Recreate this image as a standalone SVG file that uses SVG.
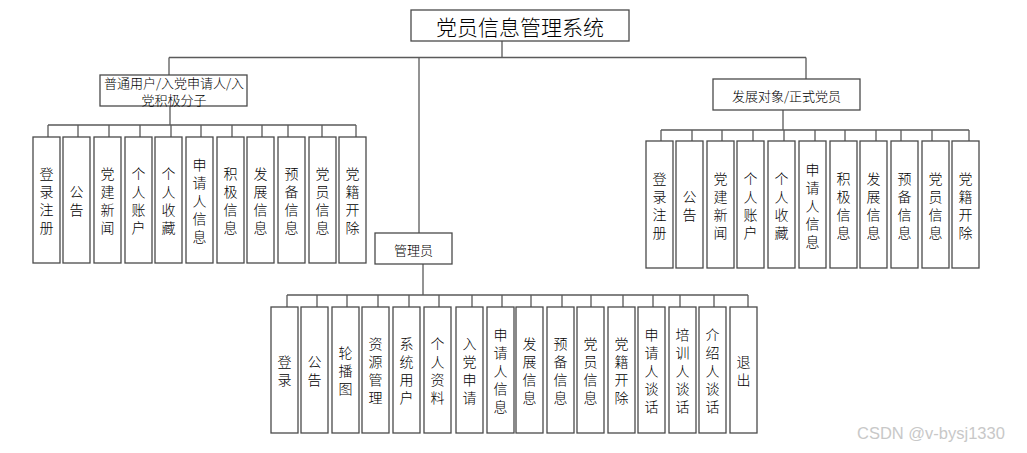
<svg xmlns="http://www.w3.org/2000/svg" width="1027" height="453" viewBox="0 0 1027 453">
<style>
.box{fill:#fff;stroke:#4a4a4a;stroke-width:1.3}
.ln{stroke:#5a5a5a;stroke-width:1.3;fill:none}
.t{font-family:"Noto Sans CJK SC","Liberation Sans",sans-serif;font-weight:300;font-size:13px;fill:#000;text-anchor:middle;dominant-baseline:central}
.v{font-family:"Noto Sans CJK SC","Liberation Sans",sans-serif;font-weight:300;font-size:14px;fill:#000;text-anchor:middle;dominant-baseline:central}
.title{font-size:21px}
.wm{font-family:"Liberation Sans",Arial,sans-serif;font-size:16.5px;fill:#c8c8c8}
</style>
<rect width="1027" height="453" fill="#fff"/>
<g id="connectors">
<path class="ln" d="M502 41V57.5M169 57.5H806M169 57.5V75M419 57.5V233M806 57.5V79"/>
<path class="ln" d="M170 106V125M48 125H356M48 125V137M78 125V137M109 125V137M140 125V137M171 125V137M201 125V137M232 125V137M262 125V137M288 125V137M322 125V137M356 125V137"/>
<path class="ln" d="M783 110V130M661 130H969M661 130V141M692 130V141M722 130V141M753 130V141M784 130V141M815 130V141M845 130V141M876 130V141M901 130V141M932 130V141M969 130V141"/>
<path class="ln" d="M423 264V295M287 295H748M287 295V307M317 295V307M347 295V307M378 295V307M409 295V307M439 295V307M472 295V307M502 295V307M531 295V307M562 295V307M591 295V307M623 295V307M653 295V307M680 295V307M714 295V307M748 295V307"/>
</g>
<g id="root"><rect class="box" x="411" y="10" width="218" height="31"/><text class="t title" x="520" y="25.5">党员信息管理系统</text></g>
<g id="user"><rect class="box" x="100" y="75" width="147" height="31"/><text class="t" x="174" y="82.5">普通用户/入党申请人/入</text><text class="t" x="174" y="99.5">党积极分子</text></g>
<g id="member"><rect class="box" x="713" y="79" width="147" height="31"/><text class="t" x="786.5" y="95">发展对象/正式党员</text></g>
<g id="admin"><rect class="box" x="375" y="233" width="77" height="31"/><text class="t" x="413.5" y="249">管理员</text></g>

<g id="u1"><rect class="box" x="33" y="137" width="27" height="126"/><text class="v"><tspan x="46.5" y="173">登</tspan><tspan x="46.5" y="191">录</tspan><tspan x="46.5" y="209">注</tspan><tspan x="46.5" y="227">册</tspan></text></g>
<g id="u2"><rect class="box" x="63" y="137" width="27" height="126"/><text class="v"><tspan x="76.5" y="191">公</tspan><tspan x="76.5" y="209">告</tspan></text></g>
<g id="u3"><rect class="box" x="94" y="137" width="27" height="126"/><text class="v"><tspan x="107.5" y="173">党</tspan><tspan x="107.5" y="191">建</tspan><tspan x="107.5" y="209">新</tspan><tspan x="107.5" y="227">闻</tspan></text></g>
<g id="u4"><rect class="box" x="125" y="137" width="27" height="126"/><text class="v"><tspan x="138.5" y="173">个</tspan><tspan x="138.5" y="191">人</tspan><tspan x="138.5" y="209">账</tspan><tspan x="138.5" y="227">户</tspan></text></g>
<g id="u5"><rect class="box" x="155" y="137" width="27" height="126"/><text class="v"><tspan x="168.5" y="173">个</tspan><tspan x="168.5" y="191">人</tspan><tspan x="168.5" y="209">收</tspan><tspan x="168.5" y="227">藏</tspan></text></g>
<g id="u6"><rect class="box" x="186" y="137" width="27" height="126"/><text class="v"><tspan x="199.5" y="164">申</tspan><tspan x="199.5" y="182">请</tspan><tspan x="199.5" y="200">人</tspan><tspan x="199.5" y="218">信</tspan><tspan x="199.5" y="236">息</tspan></text></g>
<g id="u7"><rect class="box" x="217" y="137" width="27" height="126"/><text class="v"><tspan x="230.5" y="173">积</tspan><tspan x="230.5" y="191">极</tspan><tspan x="230.5" y="209">信</tspan><tspan x="230.5" y="227">息</tspan></text></g>
<g id="u8"><rect class="box" x="247" y="137" width="27" height="126"/><text class="v"><tspan x="260.5" y="173">发</tspan><tspan x="260.5" y="191">展</tspan><tspan x="260.5" y="209">信</tspan><tspan x="260.5" y="227">息</tspan></text></g>
<g id="u9"><rect class="box" x="278" y="137" width="27" height="126"/><text class="v"><tspan x="291.5" y="173">预</tspan><tspan x="291.5" y="191">备</tspan><tspan x="291.5" y="209">信</tspan><tspan x="291.5" y="227">息</tspan></text></g>
<g id="u10"><rect class="box" x="309" y="137" width="27" height="126"/><text class="v"><tspan x="322.5" y="173">党</tspan><tspan x="322.5" y="191">员</tspan><tspan x="322.5" y="209">信</tspan><tspan x="322.5" y="227">息</tspan></text></g>
<g id="u11"><rect class="box" x="339" y="137" width="27" height="126"/><text class="v"><tspan x="352.5" y="173">党</tspan><tspan x="352.5" y="191">籍</tspan><tspan x="352.5" y="209">开</tspan><tspan x="352.5" y="227">除</tspan></text></g>

<g id="m1"><rect class="box" x="646" y="141" width="27" height="127"/><text class="v"><tspan x="659.5" y="177.5">登</tspan><tspan x="659.5" y="195.5">录</tspan><tspan x="659.5" y="213.5">注</tspan><tspan x="659.5" y="231.5">册</tspan></text></g>
<g id="m2"><rect class="box" x="676" y="141" width="27" height="127"/><text class="v"><tspan x="689.5" y="195.5">公</tspan><tspan x="689.5" y="213.5">告</tspan></text></g>
<g id="m3"><rect class="box" x="707" y="141" width="27" height="127"/><text class="v"><tspan x="720.5" y="177.5">党</tspan><tspan x="720.5" y="195.5">建</tspan><tspan x="720.5" y="213.5">新</tspan><tspan x="720.5" y="231.5">闻</tspan></text></g>
<g id="m4"><rect class="box" x="737" y="141" width="27" height="127"/><text class="v"><tspan x="750.5" y="177.5">个</tspan><tspan x="750.5" y="195.5">人</tspan><tspan x="750.5" y="213.5">账</tspan><tspan x="750.5" y="231.5">户</tspan></text></g>
<g id="m5"><rect class="box" x="768" y="141" width="27" height="127"/><text class="v"><tspan x="781.5" y="177.5">个</tspan><tspan x="781.5" y="195.5">人</tspan><tspan x="781.5" y="213.5">收</tspan><tspan x="781.5" y="231.5">藏</tspan></text></g>
<g id="m6"><rect class="box" x="799" y="141" width="27" height="127"/><text class="v"><tspan x="812.5" y="168.5">申</tspan><tspan x="812.5" y="186.5">请</tspan><tspan x="812.5" y="204.5">人</tspan><tspan x="812.5" y="222.5">信</tspan><tspan x="812.5" y="240.5">息</tspan></text></g>
<g id="m7"><rect class="box" x="830" y="141" width="27" height="127"/><text class="v"><tspan x="843.5" y="177.5">积</tspan><tspan x="843.5" y="195.5">极</tspan><tspan x="843.5" y="213.5">信</tspan><tspan x="843.5" y="231.5">息</tspan></text></g>
<g id="m8"><rect class="box" x="860" y="141" width="27" height="127"/><text class="v"><tspan x="873.5" y="177.5">发</tspan><tspan x="873.5" y="195.5">展</tspan><tspan x="873.5" y="213.5">信</tspan><tspan x="873.5" y="231.5">息</tspan></text></g>
<g id="m9"><rect class="box" x="891" y="141" width="27" height="127"/><text class="v"><tspan x="904.5" y="177.5">预</tspan><tspan x="904.5" y="195.5">备</tspan><tspan x="904.5" y="213.5">信</tspan><tspan x="904.5" y="231.5">息</tspan></text></g>
<g id="m10"><rect class="box" x="922" y="141" width="27" height="127"/><text class="v"><tspan x="935.5" y="177.5">党</tspan><tspan x="935.5" y="195.5">员</tspan><tspan x="935.5" y="213.5">信</tspan><tspan x="935.5" y="231.5">息</tspan></text></g>
<g id="m11"><rect class="box" x="952" y="141" width="27" height="127"/><text class="v"><tspan x="965.5" y="177.5">党</tspan><tspan x="965.5" y="195.5">籍</tspan><tspan x="965.5" y="213.5">开</tspan><tspan x="965.5" y="231.5">除</tspan></text></g>

<g id="a1"><rect class="box" x="271" y="307" width="27" height="126"/><text class="v"><tspan x="284.5" y="361">登</tspan><tspan x="284.5" y="379">录</tspan></text></g>
<g id="a2"><rect class="box" x="301" y="307" width="27" height="126"/><text class="v"><tspan x="314.5" y="361">公</tspan><tspan x="314.5" y="379">告</tspan></text></g>
<g id="a3"><rect class="box" x="332" y="307" width="27" height="126"/><text class="v"><tspan x="345.5" y="352">轮</tspan><tspan x="345.5" y="370">播</tspan><tspan x="345.5" y="388">图</tspan></text></g>
<g id="a4"><rect class="box" x="362" y="307" width="27" height="126"/><text class="v"><tspan x="375.5" y="343">资</tspan><tspan x="375.5" y="361">源</tspan><tspan x="375.5" y="379">管</tspan><tspan x="375.5" y="397">理</tspan></text></g>
<g id="a5"><rect class="box" x="393" y="307" width="27" height="126"/><text class="v"><tspan x="406.5" y="343">系</tspan><tspan x="406.5" y="361">统</tspan><tspan x="406.5" y="379">用</tspan><tspan x="406.5" y="397">户</tspan></text></g>
<g id="a6"><rect class="box" x="424" y="307" width="27" height="126"/><text class="v"><tspan x="437.5" y="343">个</tspan><tspan x="437.5" y="361">人</tspan><tspan x="437.5" y="379">资</tspan><tspan x="437.5" y="397">料</tspan></text></g>
<g id="a7"><rect class="box" x="456" y="307" width="27" height="126"/><text class="v"><tspan x="469.5" y="343">入</tspan><tspan x="469.5" y="361">党</tspan><tspan x="469.5" y="379">申</tspan><tspan x="469.5" y="397">请</tspan></text></g>
<g id="a8"><rect class="box" x="487" y="307" width="27" height="126"/><text class="v"><tspan x="500.5" y="334">申</tspan><tspan x="500.5" y="352">请</tspan><tspan x="500.5" y="370">人</tspan><tspan x="500.5" y="388">信</tspan><tspan x="500.5" y="406">息</tspan></text></g>
<g id="a9"><rect class="box" x="516" y="307" width="27" height="126"/><text class="v"><tspan x="529.5" y="343">发</tspan><tspan x="529.5" y="361">展</tspan><tspan x="529.5" y="379">信</tspan><tspan x="529.5" y="397">息</tspan></text></g>
<g id="a10"><rect class="box" x="547" y="307" width="27" height="126"/><text class="v"><tspan x="560.5" y="343">预</tspan><tspan x="560.5" y="361">备</tspan><tspan x="560.5" y="379">信</tspan><tspan x="560.5" y="397">息</tspan></text></g>
<g id="a11"><rect class="box" x="577" y="307" width="27" height="126"/><text class="v"><tspan x="590.5" y="343">党</tspan><tspan x="590.5" y="361">员</tspan><tspan x="590.5" y="379">信</tspan><tspan x="590.5" y="397">息</tspan></text></g>
<g id="a12"><rect class="box" x="608" y="307" width="27" height="126"/><text class="v"><tspan x="621.5" y="343">党</tspan><tspan x="621.5" y="361">籍</tspan><tspan x="621.5" y="379">开</tspan><tspan x="621.5" y="397">除</tspan></text></g>
<g id="a13"><rect class="box" x="638" y="307" width="27" height="126"/><text class="v"><tspan x="651.5" y="334">申</tspan><tspan x="651.5" y="352">请</tspan><tspan x="651.5" y="370">人</tspan><tspan x="651.5" y="388">谈</tspan><tspan x="651.5" y="406">话</tspan></text></g>
<g id="a14"><rect class="box" x="669" y="307" width="27" height="126"/><text class="v"><tspan x="682.5" y="334">培</tspan><tspan x="682.5" y="352">训</tspan><tspan x="682.5" y="370">人</tspan><tspan x="682.5" y="388">谈</tspan><tspan x="682.5" y="406">话</tspan></text></g>
<g id="a15"><rect class="box" x="699" y="307" width="27" height="126"/><text class="v"><tspan x="712.5" y="334">介</tspan><tspan x="712.5" y="352">绍</tspan><tspan x="712.5" y="370">人</tspan><tspan x="712.5" y="388">谈</tspan><tspan x="712.5" y="406">话</tspan></text></g>
<g id="a16"><rect class="box" x="730" y="307" width="27" height="126"/><text class="v"><tspan x="743.5" y="361">退</tspan><tspan x="743.5" y="379">出</tspan></text></g>

<text class="wm" x="857" y="439">CSDN @v-bysj1330</text>
</svg>
